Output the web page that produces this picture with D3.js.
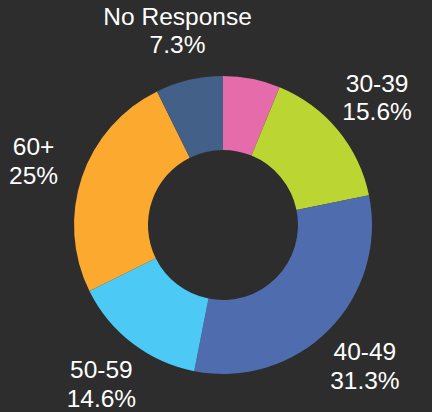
<!DOCTYPE html>
<html>
<head>
<meta charset="utf-8">
<script src="https://cdn.jsdelivr.net/npm/d3@7"></script>
<style>
  html, body { margin: 0; padding: 0; background: #2d2d2d; }
  svg { display: block; }
</style>
</head>
<body>
<svg id="chart" width="432" height="412"></svg>
<script>
const categories = ["<30", "30-39", "40-49", "50-59", "60+", "No Response"];
const values = [6.2, 15.6, 31.3, 14.6, 25, 7.3];
const showLabel = [false, true, true, true, true, true];
const colors = ["#e56baa", "#bbd532", "#4e6cae", "#4dc9f6", "#fbaa2f", "#436088"];

const W = 432, H = 412;
const cx = 223, cy = 225;
const outerR = 149, innerR = 75, labelR = 200;

const svg = d3.select("#chart");
svg.append("rect").attr("width", W).attr("height", H).attr("fill", "#2d2d2d");

const data = categories.map((c, i) => ({ cat: c, value: values[i], color: colors[i], show: showLabel[i] }));

const pie = d3.pie().value(d => d.value).sort(null);
const arcs = pie(data);
const arc = d3.arc().innerRadius(innerR).outerRadius(outerR);
const labelArc = d3.arc().innerRadius(labelR).outerRadius(labelR);

const g = svg.append("g").attr("transform", `translate(${cx},${cy})`);

g.selectAll("path.slice")
  .data(arcs)
  .join("path")
  .attr("class", "slice")
  .attr("d", arc)
  .attr("fill", d => d.data.color);

const lab = g.selectAll("text.lbl")
  .data(arcs.filter(d => d.data.show))
  .join("text")
  .attr("class", "lbl")
  .attr("text-anchor", "middle")
  .attr("fill", "#ffffff")
  .style("font-family", "'Liberation Sans', Arial, sans-serif")
  .style("font-size", "24.5px")
  .attr("transform", d => {
    const [x, y] = labelArc.centroid(d);
    return `translate(${x},${y})`;
  });

lab.append("tspan").attr("x", 0).attr("y", -5.7).text(d => d.data.cat);
lab.append("tspan").attr("x", 0).attr("y", 22.9).text(d => d.data.value + "%");
</script>
</body>
</html>
